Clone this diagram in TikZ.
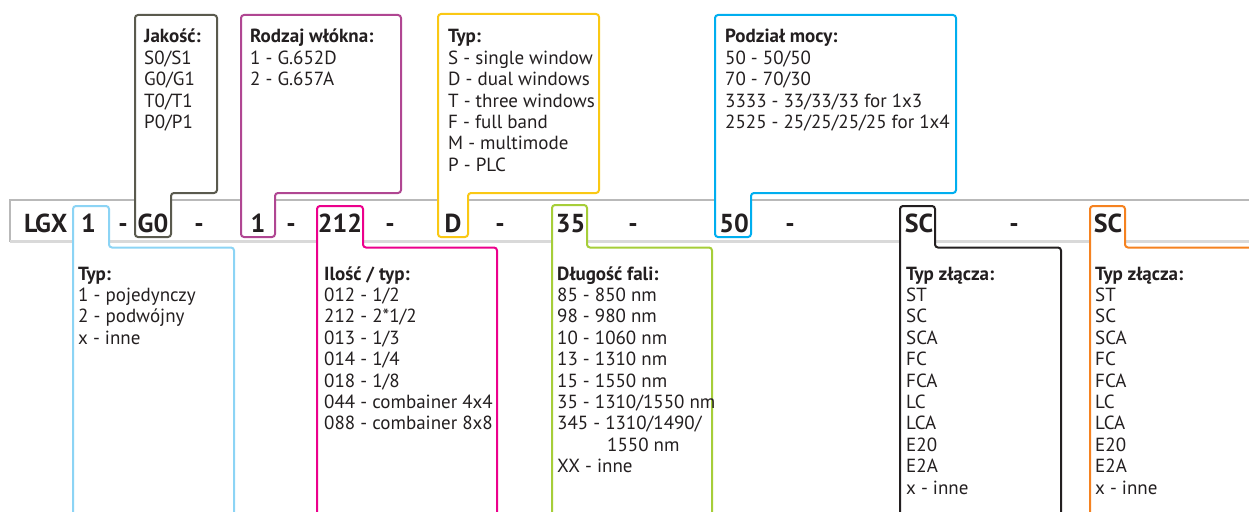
\documentclass[tikz,border=0pt]{standalone}
\usepackage{fontspec}
\setmainfont{PT Sans}
\usepackage{tikz}

\definecolor{txt}{RGB}{35,31,32}
\definecolor{olivegray}{RGB}{90,90,78}
\definecolor{plum}{RGB}{176,70,146}
\definecolor{amber}{RGB}{250,200,20}
\definecolor{cyanblue}{RGB}{0,174,239}
\definecolor{skyblue}{RGB}{140,212,245}
\definecolor{magenta}{RGB}{236,0,140}
\definecolor{lime}{RGB}{166,206,57}
\definecolor{orange}{RGB}{245,130,32}

% list of codes, first line on the node's baseline
\newcommand{\codelist}[1]{\begin{tabular}[t]{@{}l@{}}#1\end{tabular}}

\tikzset{
  callout/.style={line width=2pt, rounded corners=3pt, fill=white, draw=#1},
  info/.style={anchor=base west, inner sep=0pt, text=txt,
    font=\fontsize{19}{21.4}\selectfont},
  code/.style={anchor=base, inner sep=0pt, text=txt,
    font=\fontsize{26}{30}\selectfont\bfseries},
}

\begin{document}
\begin{tikzpicture}[x=1pt,y=-1pt]
      \useasboundingbox (0,0) rectangle (1249,511);
      % code bar
      \draw[gray!55, line width=2pt, fill=white] (10,200) rectangle (1262,241);
      \draw[gray!30, line width=3pt] (10,241) -- (1262,241);
      % callouts above
      \draw[callout=olivegray] (135,237) -- (135,15) -- (217,15) -- (217,193) -- (171,193) -- (171,237) -- cycle;
      \draw[callout=plum] (241,237) -- (241,15) -- (401,15) -- (401,193) -- (275,193) -- (275,237) -- cycle;
      \draw[callout=amber] (438,237) -- (438,14) -- (599,14) -- (599,193) -- (468,193) -- (468,237) -- cycle;
      \draw[callout=cyanblue] (715,237) -- (715,15) -- (956,15) -- (956,193) -- (751,193) -- (751,237) -- cycle;
      % callouts below
      \draw[callout=skyblue] (73,530) -- (73,206) -- (109,206) -- (109,247.5) -- (234,247.5) -- (234,530);
      \draw[callout=magenta] (317,530) -- (317,206) -- (363,206) -- (363,247.5) -- (497,247.5) -- (497,530);
      \draw[callout=lime] (552,530) -- (552,205) -- (587,205) -- (587,247.5) -- (712,247.5) -- (712,530);
      \draw[callout=txt] (900,530) -- (900,206) -- (935,206) -- (935,247.5) -- (1061,247.5) -- (1061,530);
      \draw[callout=orange] (1090,530) -- (1090,206) -- (1125,206) -- (1125,247.5) -- (1270,247.5) -- (1270,530);

      % code
      \node (lgx) at (24,232) [code, anchor=base west] {LGX};
      \node (typ) at (88.5,232) [code] {1};
      \node (s1) at (123,232) [code] {-};
      \node (jak) at (153,232) [code] {G0};
      \node (s2) at (199,232) [code] {-};
      \node (wlo) at (258,232) [code] {1};
      \node (s3) at (291,232) [code] {-};
      \node (ilo) at (340,232) [code] {212};
      \node (s4) at (390,232) [code] {-};
      \node (okn) at (453,232) [code] {D};
      \node (s5) at (500,232) [code] {-};
      \node (fal) at (570.5,232) [code] {35};
      \node (s6) at (633,232) [code] {-};
      \node (pod) at (734,232) [code] {50};
      \node (s7) at (790,232) [code] {-};
      \node (zl1) at (919,232) [code] {SC};
      \node (s8) at (1014,232) [code] {-};
      \node (zl2) at (1108,232) [code] {SC};

      % descriptions above
      \node (jakosc) at (144,43) [info] {\codelist{\textbf{Jakość:}\\S0/S1\\G0/G1\\T0/T1\\P0/P1}};
      \node (wlokno) at (250,43) [info] {\codelist{\textbf{Rodzaj włókna:}\\1 - G.652D\\2 - G.657A}};
      \node (okno) at (448,43) [info] {\codelist{\textbf{Typ:}\\S - single window\\D - dual windows\\T - three windows\\F - full band\\M - multimode\\P - PLC}};
      \node (podzial) at (725,43) [info] {\codelist{\textbf{Podział mocy:}\\50 - 50/50\\70 - 70/30\\3333 - 33/33/33 for 1x3\\2525 - 25/25/25/25 for 1x4}};
      % descriptions below
      \node (typy) at (78,280) [info] {\codelist{\textbf{Typ:}\\1 - pojedynczy\\2 - podwójny\\x - inne}};
      \node (ilosc) at (324,280) [info] {\codelist{\textbf{Ilość / typ:}\\012 - 1/2\\212 - 2*1/2\\013 - 1/3\\014 - 1/4\\018 - 1/8\\044 - combainer 4x4\\088 - combainer 8x8}};
      \node (fala) at (557,280) [info] {\codelist{\textbf{Długość fali:}\\85 - 850 nm\\98 - 980 nm\\10 - 1060 nm\\13 - 1310 nm\\15 - 1550 nm\\35 - 1310/1550 nm\\345 - 1310/1490/\\\hspace*{50pt}1550 nm\\XX - inne}};
      \node (zlacze1) at (906,280) [info] {\codelist{\textbf{Typ złącza:}\\ST\\SC\\SCA\\FC\\FCA\\LC\\LCA\\E20\\E2A\\x - inne}};
      \node (zlacze2) at (1095,280) [info] {\codelist{\textbf{Typ złącza:}\\ST\\SC\\SCA\\FC\\FCA\\LC\\LCA\\E20\\E2A\\x - inne}};
    \end{tikzpicture}
\end{document}
